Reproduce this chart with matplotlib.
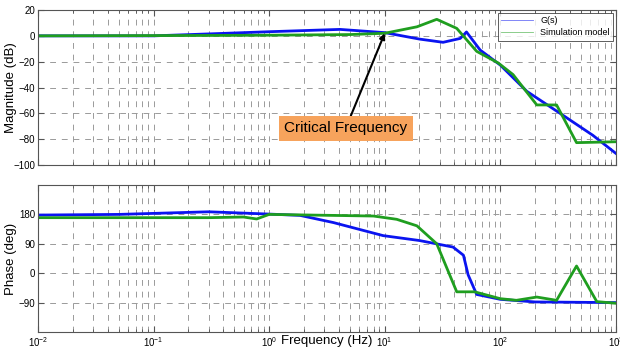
import numpy as np
import matplotlib
matplotlib.use("Agg")
import matplotlib.pyplot as plt
from matplotlib.ticker import LogLocator, FixedLocator

plt.rcParams['font.family'] = ['Liberation Sans', 'DejaVu Sans']

# --- data ---
# magnitude, G(s)
mag_g_f = [0.01, 0.1, 0.3, 1.0, 4.1, 10, 20, 32, 45, 51, 67, 100, 170, 329, 632, 1000]
mag_g_db = [0, 0, 1.5, 3.2, 5.0, 2.5, -2.5, -5.0, -2.0, 3.0, -11, -22.6, -43, -60, -77, -91]
# magnitude, simulation model
mag_s_f = [0.01, 0.3, 1.0, 5, 10, 19, 28.2, 42, 62.5, 96, 129, 207, 307, 457, 1000]
mag_s_db = [0, 0.3, 0.5, 1.0, 2.0, 7.0, 12.8, 5.8, -12, -21, -30, -53.5, -53.5, -82.7, -82]

# phase, G(s)
ph_g_f = [0.01, 0.05, 0.3, 1.0, 1.85, 3.6, 9.7, 20, 39, 48, 52.7, 62.5, 100, 200, 1000]
ph_g_deg = [178, 180, 188, 181, 177, 155, 115, 100, 80, 55, -5, -65, -80, -88, -90]
# phase, simulation model
ph_s_f = [0.01, 0.3, 0.6, 0.78, 1.0, 8, 12.7, 19, 28.2, 42, 60, 100, 138, 207, 307, 457, 684, 1000]
ph_s_deg = [170, 170, 172, 166, 180, 175, 165, 145, 90, -57, -57, -78, -83, -73, -83, 22, -87, -92]

blue = "#0a14f0"
green = "#1f9e1f"

fig = plt.figure(figsize=(6.2, 3.53), dpi=100)
ax1 = fig.add_axes([0.0613, 0.5326, 0.932, 0.439])
ax2 = fig.add_axes([0.0613, 0.0595, 0.932, 0.4164])


def style(ax):
    ax.set_xscale("log")
    ax.set_xlim(0.01, 1000)
    ax.xaxis.set_major_locator(LogLocator(base=10, numticks=10))
    ax.xaxis.set_minor_locator(LogLocator(base=10, subs=np.arange(2, 10), numticks=20))
    ax.grid(True, which="both", axis="x", color="#9a9a9a", linestyle=(0, (6, 6)), linewidth=0.7)
    ax.grid(True, which="major", axis="y", color="#9a9a9a", linestyle=(0, (6, 6)), linewidth=0.7)
    ax.tick_params(which="both", direction="in", top=True, right=True, labelsize=7,
                   color="#555555", pad=2)
    ax.tick_params(which="major", length=4)
    ax.tick_params(which="minor", length=2)
    for s in ax.spines.values():
        s.set_color("#555555")
        s.set_linewidth(0.8)


style(ax1)
style(ax2)

ax1.plot(mag_g_f, mag_g_db, color=blue, lw=2, label="G(s)")
ax1.plot(mag_s_f, mag_s_db, color=green, lw=2, label="Simulation model")
ax1.set_ylim(-100, 20)
ax1.yaxis.set_major_locator(FixedLocator(np.arange(-100, 21, 20)))
ax1.set_xticklabels([])
ax1.set_ylabel("Magnitude (dB)", fontsize=9.5)
ax1.yaxis.set_label_coords(-0.037, 0.5)

leg = ax1.legend(loc="upper right", fontsize=6.5, handlelength=3.5,
                 frameon=True, fancybox=False, borderaxespad=0.3, labelspacing=0.3)
leg.get_frame().set_edgecolor("#333333")
leg.get_frame().set_linewidth(0.7)
for line in leg.get_lines():
    line.set_linewidth(0.6)
    line.set_alpha(0.6)

ax1.annotate("Critical Frequency", xy=(10, 2), xytext=(4.6, -71.5),
             fontsize=11, ha="center", va="center",
             bbox=dict(boxstyle="square,pad=0.35", fc="#f7a35c", ec="none"),
             arrowprops=dict(arrowstyle="-|>", color="black", lw=1.5,
                             shrinkA=0, shrinkB=0, mutation_scale=8))

ax2.plot(ph_g_f, ph_g_deg, color=blue, lw=2)
ax2.plot(ph_s_f, ph_s_deg, color=green, lw=2)
ax2.set_ylim(-180, 270)
ax2.yaxis.set_major_locator(FixedLocator([-90, 0, 90, 180]))
ax2.set_ylabel("Phase (deg)", fontsize=9.5)
ax2.yaxis.set_label_coords(-0.037, 0.5)

fig.text(327 / 620, 1 - 341 / 353, "Frequency (Hz)", fontsize=9.5,
         ha="center", va="center")

fig.savefig("out.png", dpi=100)
